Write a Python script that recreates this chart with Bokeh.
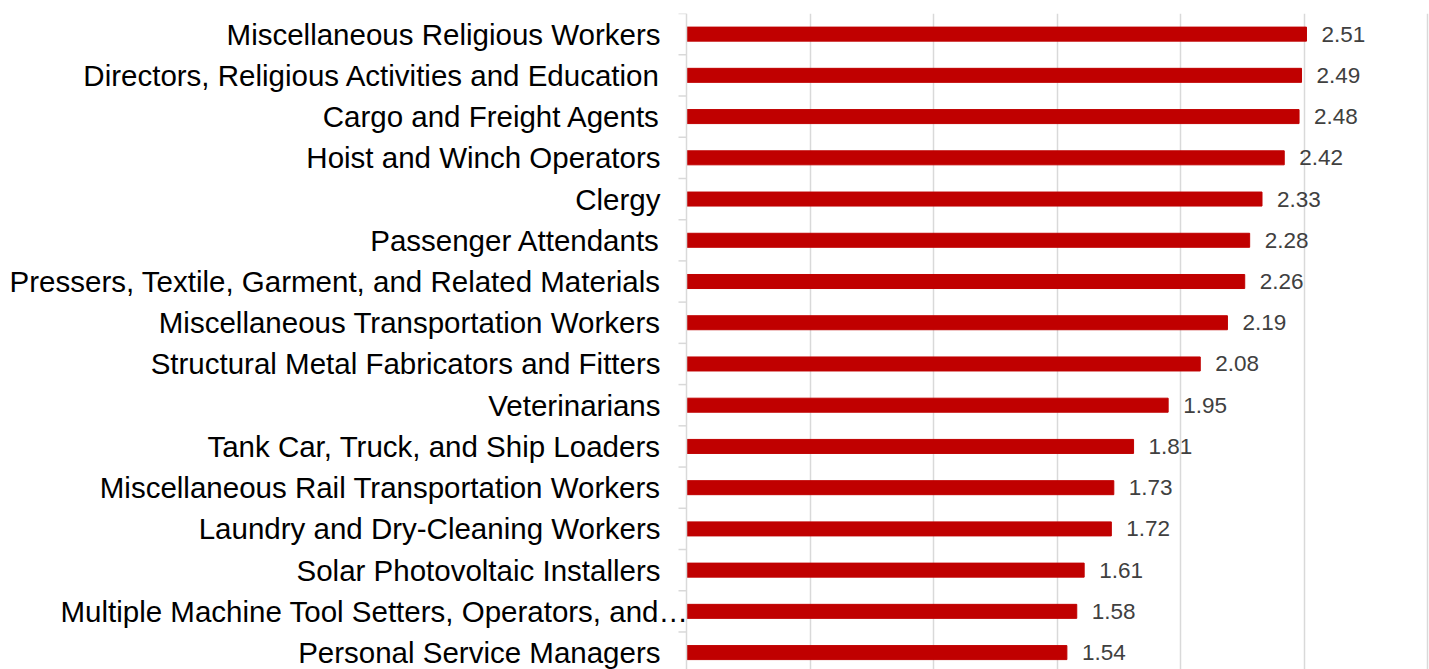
import math
from bokeh.plotting import figure
from bokeh.models import Range1d, FixedTicker, ColumnDataSource, LabelSet, Span
from bokeh.core.properties import value
from bokeh.embed import file_html
from bokeh.resources import INLINE

categories = [
    "Miscellaneous Religious Workers",
    "Directors, Religious Activities and Education",
    "Cargo and Freight Agents",
    "Hoist and Winch Operators",
    "Clergy",
    "Passenger Attendants",
    "Pressers, Textile, Garment, and Related Materials",
    "Miscellaneous Transportation Workers",
    "Structural Metal Fabricators and Fitters",
    "Veterinarians",
    "Tank Car, Truck, and Ship Loaders",
    "Miscellaneous Rail Transportation Workers",
    "Laundry and Dry-Cleaning Workers",
    "Solar Photovoltaic Installers",
    "Multiple Machine Tool Setters, Operators, and…",
    "Personal Service Managers",
]
values = [2.51, 2.49, 2.48, 2.42, 2.33, 2.28, 2.26, 2.19, 2.08, 1.95, 1.81, 1.73, 1.72, 1.61, 1.58, 1.54]
grid_ticks = [0.5, 1.0, 1.5, 2.0, 2.5, 3.0]

FONT = "Liberation Sans"
GRID = "#d9d9d9"
n = len(categories)
pos = list(range(n))
# truncated (ellipsis) label overflows onto the axis as in the original
lbl_offset = [2 if c.endswith("…") else -26 for c in categories]
src = ColumnDataSource(dict(y=pos, v=values, lbl=[f"{v:.2f}" for v in values],
                            cat=categories, off=lbl_offset))

# plot area spans the full width; the category labels live left of x=0
PX_PER_UNIT = 247.0
x_start = -686 / PX_PER_UNIT
x_end = (1429 - 686) / PX_PER_UNIT

p = figure(width=1429, height=669, output_backend="svg", toolbar_location=None,
           x_range=Range1d(x_start, x_end), y_range=Range1d(15.41, -0.5),
           min_border_left=0, min_border_right=0, min_border_top=13, min_border_bottom=0)
p.outline_line_color = None
p.xaxis.visible = False
p.yaxis.visible = False
p.ygrid.visible = False
p.xgrid.ticker = FixedTicker(ticks=grid_ticks)
p.xgrid.grid_line_color = GRID
p.xgrid.grid_line_width = 1.5

# value axis line at zero and category separators (ticks pointing outward)
p.add_layout(Span(location=0, dimension="height", line_color=GRID, line_width=1.5))
p.ray(x=0, y=[i - 0.5 for i in range(n + 1)], length=8, length_units="screen",
      angle=math.pi, line_color=GRID, line_width=1.5)

p.hbar(y="y", right="v", left=0, height=0.34, source=src, color="#C00000")

p.text(x=0, y="y", text="cat", x_offset="off", source=src, text_align="right",
       text_baseline="middle", text_font=value(FONT), text_font_size="29.5px",
       text_color="#000000")

labels = LabelSet(x="v", y="y", text="lbl", source=src, x_offset=15, y_offset=0,
                  text_font=value(FONT), text_font_size="22.5px", text_color="#404040",
                  text_baseline="middle", text_align="left")
p.add_layout(labels)

open("out.html", "w").write(file_html(p, INLINE))
